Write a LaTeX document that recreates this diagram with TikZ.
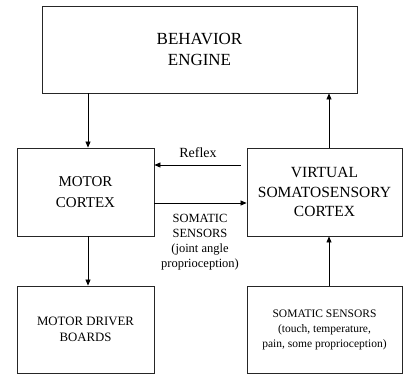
\documentclass[tikz,border=0pt]{standalone}
\usepackage{fontspec}
\setmainfont{Liberation Serif}
\usetikzlibrary{arrows.meta}

\tikzset{
  bloc/.style={draw=black!85, line width=0.9pt, inner sep=0pt, align=center},
  fleche/.style={-{Triangle[length=6pt,width=5pt]}, line width=0.7pt},
}

\begin{document}
\begin{tikzpicture}[x=1pt,y=1pt]
\useasboundingbox (0,0) rectangle (403,376);

% Blocs du haut
\node[bloc, minimum width=315pt, minimum height=87pt,
  font=\fontsize{17}{21}\selectfont] (engine) at (199.5,326.5) {BEHAVIOR\\ENGINE};

% Blocs du milieu
\node[bloc, minimum width=137pt, minimum height=88pt,
  font=\fontsize{15}{21}\selectfont] (motor) at (85.5,184) {MOTOR\\CORTEX};
\node[bloc, minimum width=155pt, minimum height=88pt,
  font=\fontsize{15.5}{19.5}\selectfont] (virtual) at (324.5,184) {VIRTUAL\\SOMATOSENSORY\\CORTEX};

% Blocs du bas
\node[bloc, minimum width=137pt, minimum height=87pt,
  font=\fontsize{12.8}{16}\selectfont] (driver) at (85.5,46.5) {MOTOR DRIVER\\BOARDS};
\node[bloc, minimum width=155pt, minimum height=87pt,
  font=\fontsize{11.5}{15}\selectfont] (sensors) at (324.5,46.5) {SOMATIC SENSORS\\(touch, temperature,\\pain, some proprioception)};

% Fleches verticales
\draw[fleche] ([xshift=2.5pt]motor.north |- engine.south) -- ([xshift=2.5pt]motor.north);
\draw[fleche] ([xshift=2.5pt]motor.south) -- ([xshift=2.5pt]driver.north);
\draw[fleche] ([xshift=4.5pt]virtual.north) -- ([xshift=4.5pt]virtual.north |- engine.south);
\draw[fleche] ([xshift=4.5pt]sensors.north) -- ([xshift=4.5pt]virtual.south);

% Fleches horizontales
\draw[fleche, shorten <=6pt] ([yshift=27pt]virtual.west) -- ([yshift=27pt]motor.east);
\draw[fleche] ([yshift=-11pt]motor.east) -- ([yshift=-11pt]virtual.west);

\node[font=\fontsize{14}{16}\selectfont] (reflex) at (198,223) {Reflex};
\node[align=center, font=\fontsize{12.5}{15}\selectfont] (somatic) at (200,134)
  {SOMATIC\\SENSORS\\(joint angle\\proprioception)};
\end{tikzpicture}
\end{document}
